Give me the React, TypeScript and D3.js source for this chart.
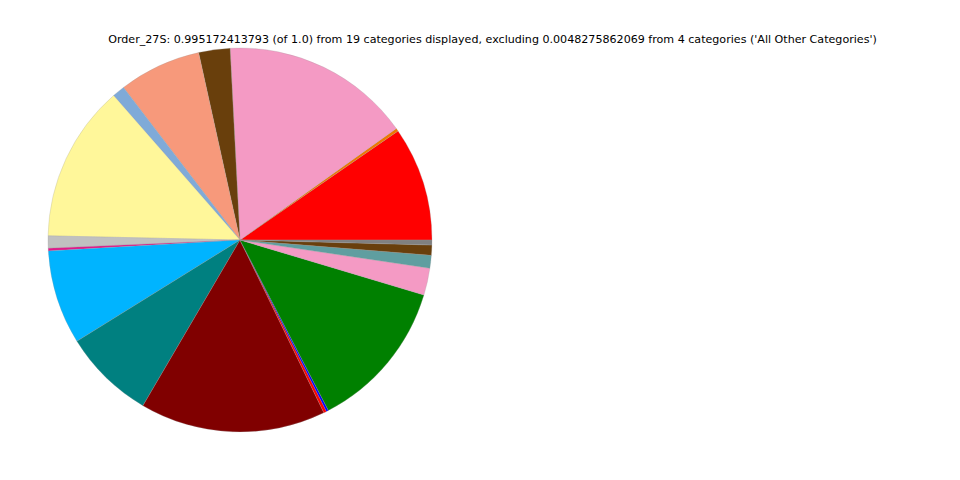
import React from "react";
import * as d3 from "d3";

const categories = [
  "Cat 1", "Cat 2", "Cat 3", "Cat 4", "Cat 5", "Cat 6", "Cat 7", "Cat 8", "Cat 9", "Cat 10",
  "Cat 11", "Cat 12", "Cat 13", "Cat 14", "Cat 15", "Cat 16", "Cat 17", "Cat 18", "Cat 19",
];
const values = [
  0.0961, 0.0025, 0.1597, 0.0264, 0.0692, 0.0106, 0.1322, 0.0103, 0.0022, 0.0794,
  0.0772, 0.1564, 0.0024, 0.0018, 0.1276, 0.0228, 0.0108, 0.0085, 0.0042,
];
const colors = [
  "#ff0000", "#f07800", "#f49ac4", "#693f0c", "#f7997b", "#7faad8", "#fff79a", "#c0c0c0", "#e0188a", "#00b4ff",
  "#008080", "#800000", "#ff0000", "#0000ff", "#008000", "#f49ac4", "#5f9ea0", "#693f0c", "#808080",
];
const title =
  "Order_27S: 0.995172413793 (of 1.0) from 19 categories displayed, excluding 0.0048275862069 from 4 categories ('All Other Categories')";

export default function App() {
  const W = 960, H = 480;
  const cx = 240, cy = 240, r = 192;
  const data = categories.map((c, i) => ({ c, v: values[i], col: colors[i] }));
  const pie = d3.pie<any>().value((d) => d.v).sort(null)
    .startAngle(Math.PI / 2).endAngle(Math.PI / 2 - 2 * Math.PI);
  const arc = d3.arc<any>().innerRadius(0).outerRadius(r);
  const arcs = pie(data);
  return (
    <svg width={W} height={H} style={{ position: "absolute", left: 0, top: 0, background: "#fff" }}>
      <g transform={`translate(${cx},${cy})`}>
        {arcs.map((a, i) => (
          <path key={i} d={arc({ ...a, startAngle: a.endAngle, endAngle: a.startAngle }) || ""}
            fill={a.data.col} stroke="#999" strokeWidth={0.25} />
        ))}
      </g>
      <text x={492.5} y={43} textAnchor="middle" fontFamily="DejaVu Sans" fontSize={11.1} fill="#000">
        {title}
      </text>
    </svg>
  );
}
